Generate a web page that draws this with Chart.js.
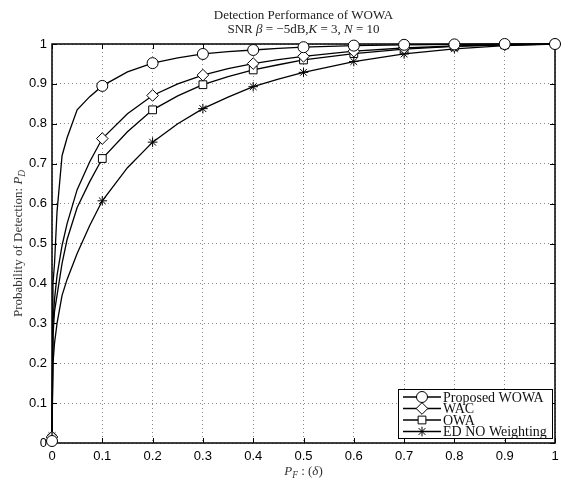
<!DOCTYPE html>
<html>
<head>
<meta charset="utf-8">
<script src="https://cdn.jsdelivr.net/npm/chart.js@4/dist/chart.umd.min.js"></script>
<style>
  html, body { margin: 0; padding: 0; background: #fff; }
</style>
</head>
<body>
<canvas id="rocChart" width="573" height="482"></canvas>
<script>
// False alarm probability samples (shared by all curves)
const pf = [0, 0.002, 0.005, 0.01, 0.02, 0.03, 0.05, 0.075, 0.1, 0.15, 0.2, 0.25,
  0.3, 0.35, 0.4, 0.45, 0.5, 0.6, 0.7, 0.8, 0.9, 1];

// Detection probability
const pdWowa = [0.005, 0.40, 0.45, 0.58, 0.72, 0.765, 0.835, 0.868, 0.895, 0.93, 0.952, 0.965,
  0.975, 0.981, 0.985, 0.989, 0.992, 0.996, 0.998, 0.999, 1.0, 1.0];
const pdWac = [0.015, 0.30, 0.36, 0.42, 0.495, 0.55, 0.635, 0.705, 0.763, 0.825, 0.871, 0.90,
  0.922, 0.938, 0.951, 0.961, 0.969, 0.982, 0.99, 0.995, 0.998, 1.0];
const pdOwa = [0.012, 0.27, 0.33, 0.37, 0.45, 0.51, 0.59, 0.655, 0.713, 0.78, 0.835, 0.87,
  0.898, 0.918, 0.935, 0.948, 0.96, 0.976, 0.987, 0.994, 0.998, 1.0];
const pdEd = [0.018, 0.20, 0.25, 0.30, 0.37, 0.41, 0.475, 0.545, 0.607, 0.69, 0.754, 0.80,
  0.838, 0.867, 0.893, 0.912, 0.929, 0.956, 0.975, 0.988, 0.996, 1.0];

const seriesNames = ["Proposed WOWA", "WAC", "OWA", "ED NO Weighting"];
const tickValues = [0, 0.1, 0.2, 0.3, 0.4, 0.5, 0.6, 0.7, 0.8, 0.9, 1];

const serif = "'Liberation Serif', 'DejaVu Serif', serif";
const sans = "'Liberation Sans', Arial, sans-serif";

// markers only sit on the 0.1 grid
const isMarker = (x) => tickValues.some(t => Math.abs(t - x) < 1e-9);

const styles = [
  { point: "circle", r: 5.5 },
  { point: "rectRot", r: 5.8 },
  { point: "rect", r: 5.5 },
  { point: "star", r: 4.8 },
];

const makeSet = (name, ys, i) => ({
  label: name,
  data: pf.map((x, k) => ({ x, y: ys[k] })),
  borderColor: "#000",
  borderWidth: 1.3,
  backgroundColor: "#fff",
  pointStyle: styles[i].point,
  pointBorderColor: "#000",
  pointBackgroundColor: "#fff",
  pointBorderWidth: 1,
  pointRadius: (ctx) => isMarker(pf[ctx.dataIndex]) ? styles[i].r : 0,
  pointHoverRadius: 0,
  tension: 0,
  clip: false,
});

// draw a line of mixed normal / italic / subscript text
const drawRuns = (ctx, runs, x, y, size, color) => {
  const fontOf = (r) => `${r.i ? "italic " : ""}${r.sub ? size * 0.72 : size}px ${serif}`;
  let total = 0;
  runs.forEach(r => { ctx.font = fontOf(r); total += ctx.measureText(r.t).width; });
  let cx = x - total / 2;
  ctx.fillStyle = color;
  ctx.textBaseline = "alphabetic";
  ctx.textAlign = "left";
  runs.forEach(r => {
    ctx.font = fontOf(r);
    ctx.fillText(r.t, cx, r.sub ? y + size * 0.25 : y);
    cx += ctx.measureText(r.t).width;
  });
};

const decorations = {
  id: "decorations",
  beforeDatasetsDraw(chart) {
    const { ctx, chartArea: a, scales } = chart;
    ctx.save();
    ctx.strokeStyle = "#000";
    ctx.lineWidth = 1.5;
    ctx.strokeRect(a.left, a.top, a.right - a.left, a.bottom - a.top);

    // small inward ticks on all four sides
    ctx.lineWidth = 1;
    ctx.beginPath();
    tickValues.forEach(v => {
      const px = Math.round(scales.x.getPixelForValue(v)) + 0.5;
      ctx.moveTo(px, a.bottom); ctx.lineTo(px, a.bottom - 5);
      ctx.moveTo(px, a.top); ctx.lineTo(px, a.top + 5);
      const py = Math.round(scales.y.getPixelForValue(v)) + 0.5;
      ctx.moveTo(a.left, py); ctx.lineTo(a.left + 5, py);
      ctx.moveTo(a.right, py); ctx.lineTo(a.right - 5, py);
    });
    ctx.stroke();
    ctx.restore();
  },
  afterDraw(chart) {
    const { ctx, chartArea: a } = chart;
    const mid = (a.left + a.right) / 2;
    ctx.save();

    // title
    drawRuns(ctx, [{ t: "Detection Performance of WOWA" }], mid, 19, 13, "#222");
    drawRuns(ctx, [
      { t: "SNR " }, { t: "β", i: true }, { t: " = −5dB," }, { t: "K", i: true },
      { t: " = 3, " }, { t: "N", i: true }, { t: " = 10" },
    ], mid, 33, 13, "#222");

    // x label
    drawRuns(ctx, [
      { t: "P", i: true }, { t: "F", i: true, sub: true }, { t: " : (" },
      { t: "δ", i: true }, { t: ")" },
    ], mid, 475, 13, "#333");

    // y label
    ctx.save();
    ctx.translate(22, (a.top + a.bottom) / 2);
    ctx.rotate(-Math.PI / 2);
    drawRuns(ctx, [
      { t: "Probability of Detection: " }, { t: "P", i: true }, { t: "D", i: true, sub: true },
    ], 0, 0, 13, "#333");
    ctx.restore();

    // legend
    const box = { x: 398, y: 389, w: 154, h: 49 };
    ctx.fillStyle = "#fff";
    ctx.fillRect(box.x, box.y, box.w, box.h);
    ctx.strokeStyle = "#000";
    ctx.lineWidth = 1;
    ctx.strokeRect(box.x + 0.5, box.y + 0.5, box.w, box.h);
    seriesNames.forEach((name, i) => {
      const ry = box.y + 8 + i * 11.5;
      ctx.strokeStyle = "#000";
      ctx.lineWidth = 1.3;
      ctx.beginPath();
      ctx.moveTo(box.x + 5, ry);
      ctx.lineTo(box.x + 43, ry);
      ctx.stroke();
      ctx.fillStyle = "#fff";
      ctx.lineWidth = 1;
      Chart.helpers.drawPoint(ctx, { pointStyle: styles[i].point, radius: styles[i].r, borderWidth: 1, rotation: 0 }, box.x + 24, ry);
      ctx.fillStyle = "#111";
      ctx.font = `14px ${serif}`;
      ctx.textBaseline = "middle";
      ctx.textAlign = "left";
      ctx.fillText(name, box.x + 45, ry + 1);
    });
    ctx.restore();
  },
};

const fixAxis = (size, prop) => (scale) => {
  scale[prop] = size;
  scale.paddingLeft = scale.paddingRight = scale.paddingTop = scale.paddingBottom = 0;
};

const gridOptions = { color: "#888", lineWidth: 1, drawTicks: false };

new Chart(document.getElementById("rocChart"), {
  type: "line",
  data: {
    datasets: [
      makeSet(seriesNames[0], pdWowa, 0),
      makeSet(seriesNames[1], pdWac, 1),
      makeSet(seriesNames[2], pdOwa, 2),
      makeSet(seriesNames[3], pdEd, 3),
    ],
  },
  options: {
    responsive: false,
    animation: false,
    devicePixelRatio: 1,
    layout: { padding: { top: 44, right: 18, left: 0, bottom: 0 } },
    plugins: {
      legend: { display: false },
      title: { display: false },
      tooltip: { enabled: false },
    },
    scales: {
      x: {
        type: "linear",
        min: 0,
        max: 1,
        afterFit: fixAxis(39, "height"),
        afterBuildTicks: (s) => { s.ticks = tickValues.map(v => ({ value: v })); },
        grid: gridOptions,
        border: { display: false, dash: [1, 3] },
        ticks: {
          padding: 6,
          color: "#000",
          font: { family: sans, size: 13 },
          callback: (v) => String(+v.toFixed(1)),
        },
      },
      y: {
        type: "linear",
        min: 0,
        max: 1,
        afterFit: fixAxis(52, "width"),
        afterBuildTicks: (s) => { s.ticks = tickValues.map(v => ({ value: v })); },
        grid: gridOptions,
        border: { display: false, dash: [1, 3] },
        ticks: {
          padding: 5,
          color: "#000",
          font: { family: sans, size: 13 },
          callback: (v) => String(+v.toFixed(1)),
        },
      },
    },
  },
  plugins: [decorations],
});
</script>
</body>
</html>
